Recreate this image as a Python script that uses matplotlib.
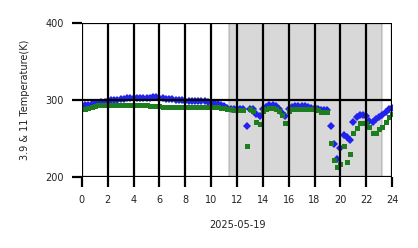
import numpy as np
import matplotlib
matplotlib.use('Agg')
import matplotlib.pyplot as plt

# hours of the day, quarter-hour steps
hours = [i * 0.25 for i in range(97)]

# 3.9 micron brightness temperature (K)
t39 = [291, 293, 294, 295, 296, 296, 297, 298,
       299, 300, 300, 300, 301, 302, 303, 303,
       303, 303, 303, 303, 303, 303, 304, 304,
       303, 303, 302, 301, 301, 300, 300, 300,
       299, 299, 299, 299, 299, 299, 299, 298,
       297, 296, 295, 293, 292, 290, 289, 288,
       289, 289, 288, 266, 289, 289, 282, 279,
       288, 291, 293, 293, 292, 289, 283, 279,
       288, 291, 292, 292, 292, 292, 291, 290,
       290, 289, 287, 287, 287, 266, 243, 223,
       238, 255, 252, 248, 272, 278, 280, 280,
       279, 273, 272, 275, 278, 281, 284, 288,
       290]

# 11 micron brightness temperature (K)
t11 = [288, 289, 290, 291, 292, 293, 293, 294,
       294, 294, 294, 294, 293, 294, 294, 294,
       294, 294, 294, 293, 293, 292, 292, 292,
       292, 291, 291, 291, 291, 291, 291, 291,
       291, 291, 291, 291, 291, 291, 291, 291,
       291, 291, 291, 290, 290, 289, 288, 287,
       287, 287, 287, 240, 288, 286, 272, 269,
       286, 289, 290, 290, 289, 286, 281, 270,
       286, 288, 289, 289, 289, 289, 288, 288,
       288, 287, 285, 284, 285, 244, 222, 213,
       217, 241, 219, 230, 257, 264, 270, 270,
       270, 265, 257, 257, 262, 265, 272, 278,
       282]

night_start = 11.35
night_end = 23.2

fig = plt.figure(figsize=(4.18, 2.48), dpi=100)
ax = fig.add_axes([0.196, 0.286, 0.742, 0.621])

ax.axvspan(night_start, night_end, color='gray', alpha=0.3, lw=1.5, zorder=0)

ax.plot(hours, t39, 'D', color='#2222ee', ms=4.0, mew=0, zorder=1.5)
ax.plot(hours, t11, 's', color='#1e7d1e', ms=3.6, mew=0, zorder=1.6)

ax.set_xlim(0, 24)
ax.set_ylim(200, 400)
ax.set_xticks(range(0, 25, 2))
ax.set_yticks([200, 300, 400])

ax.grid(True, color='black', lw=1.6)
ax.set_axisbelow(False)
for s in ax.spines.values():
    s.set_visible(False)

ax.tick_params(axis='both', length=7, width=1.6, color='black',
               labelsize=7, labelcolor='#222222', pad=6)

ax.set_xlabel('2025-05-19', fontsize=7, color='#222222', labelpad=11)
ax.set_ylabel('3.9 & 11 Temperature(K)', fontsize=7, color='#222222', labelpad=11)

fig.savefig('out.png', dpi=100)
plt.close(fig)
